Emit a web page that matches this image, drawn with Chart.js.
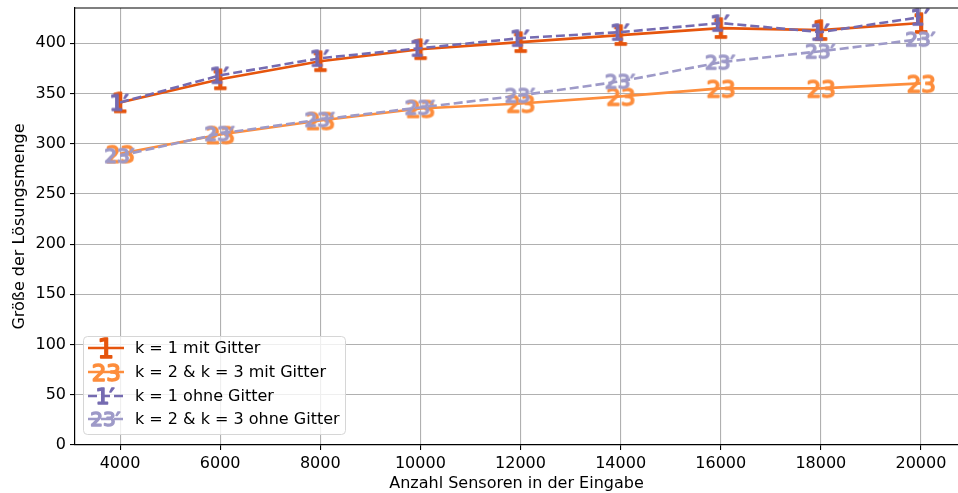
<!DOCTYPE html>
<html>
<head>
<meta charset="utf-8">
<script src="https://cdn.jsdelivr.net/npm/chart.js@4.4.1/dist/chart.umd.min.js"></script>
<style>
  html, body { margin: 0; padding: 0; background: #fff; }
  #wrap { width: 958px; height: 493px; }
</style>
</head>
<body>
<div id="wrap"><canvas id="grafico" width="958" height="493"></canvas></div>
<script>
// Daten
const sensoren = [4000, 6000, 8000, 10000, 12000, 14000, 16000, 18000, 20000];
const k1MitGitter = [341, 364, 382, 394, 401, 408, 415, 413, 420];
const k23MitGitter = [290, 309, 323, 335, 340, 347, 355, 355, 360];
const k1OhneGitter = [341, 368, 385, 395, 405, 411, 420, 411, 426];
const k23OhneGitter = [288, 310, 324, 336, 348, 362, 381, 392, 404];
const yTicks = [0, 50, 100, 150, 200, 250, 300, 350, 400];
const xTicks = [4000, 6000, 8000, 10000, 12000, 14000, 16000, 18000, 20000];

const FONT = "'DejaVu Sans', sans-serif";
const FS = 16;

// Marker als Text-Glyphen (wie mathtext-Marker)
function makeMarker(text, color, size) {
    const c = document.createElement('canvas');
    c.width = 40; c.height = 32;
    const g = c.getContext('2d');
    g.font = size + 'px ' + FONT;
    const m = g.measureText(text);
    const w = m.actualBoundingBoxLeft + m.actualBoundingBoxRight;
    const h = m.actualBoundingBoxAscent + m.actualBoundingBoxDescent;
    const x = c.width / 2 - w / 2 + m.actualBoundingBoxLeft;
    const y = c.height / 2 - h / 2 + m.actualBoundingBoxAscent;
    g.fillStyle = color;
    g.strokeStyle = color;
    g.lineWidth = 1.6;
    g.lineJoin = 'round';
    g.fillText(text, x, y);
    g.strokeText(text, x, y);
    return c;
}

const serien = [
    { label: 'k = 1 mit Gitter', data: k1MitGitter, color: '#e6550d', marker: '1', size: 26, dash: [] },
    { label: 'k = 2 & k = 3 mit Gitter', data: k23MitGitter, color: '#fd8d3c', marker: '23', size: 23, dash: [] },
    { label: 'k = 1 ohne Gitter', data: k1OhneGitter, color: '#756bb1', marker: '1\u2032', size: 22, dash: [9, 4] },
    { label: 'k = 2 & k = 3 ohne Gitter', data: k23OhneGitter, color: '#9e9ac8', marker: '23\u2032', size: 20, dash: [9, 4] }
];
serien.forEach(s => { s.img = makeMarker(s.marker, s.color, s.size); });

// Legende und obere Achsenlinie
const extras = {
    id: 'extras',
    afterDraw(chart) {
        const ctx = chart.ctx;
        const a = chart.chartArea;
        ctx.save();
        ctx.strokeStyle = '#000';
        ctx.lineWidth = 1.2;
        ctx.beginPath();
        ctx.moveTo(a.left, a.top);
        ctx.lineTo(chart.width, a.top);
        ctx.stroke();

        // Legendenbox
        const bx = 83.5, by = 336.5, bw = 262, bh = 98, r = 4;
        ctx.beginPath();
        ctx.moveTo(bx + r, by);
        ctx.arcTo(bx + bw, by, bx + bw, by + bh, r);
        ctx.arcTo(bx + bw, by + bh, bx, by + bh, r);
        ctx.arcTo(bx, by + bh, bx, by, r);
        ctx.arcTo(bx, by, bx + bw, by, r);
        ctx.closePath();
        ctx.fillStyle = 'rgba(255,255,255,0.8)';
        ctx.fill();
        ctx.strokeStyle = '#d6d6d6';
        ctx.lineWidth = 1;
        ctx.stroke();

        const rows = [348, 372, 396, 419];
        ctx.font = FS + 'px ' + FONT;
        ctx.textBaseline = 'middle';
        serien.forEach((s, i) => {
            const y = rows[i];
            ctx.strokeStyle = s.color;
            ctx.lineWidth = 2.6;
            ctx.setLineDash(s.dash);
            ctx.beginPath();
            ctx.moveTo(88, y);
            ctx.lineTo(124, y);
            ctx.stroke();
            ctx.setLineDash([]);
            ctx.drawImage(s.img, 106 - s.img.width / 2, y - s.img.height / 2);
            ctx.fillStyle = '#000';
            ctx.fillText(s.label, 135, y + 1);
        });
        ctx.restore();
    }
};

const datasets = serien.map((s, i) => ({
    label: s.label,
    data: sensoren.map((x, j) => ({ x: x, y: s.data[j] })),
    borderColor: s.color,
    backgroundColor: s.color,
    borderWidth: 2.6,
    borderDash: s.dash,
    pointStyle: s.img,
    pointRadius: 10,
    pointHoverRadius: 10,
    tension: 0,
    clip: false,
    order: serien.length - i
}));

new Chart(document.getElementById('grafico').getContext('2d'), {
    type: 'line',
    data: { datasets: datasets },
    plugins: [extras],
    options: {
        responsive: false,
        animation: false,
        layout: { autoPadding: false, padding: { top: 8, right: 0, left: 0, bottom: 0 } },
        plugins: {
            legend: { display: false },
            tooltip: { enabled: false }
        },
        scales: {
            x: {
                type: 'linear',
                min: 3100,
                max: 20740,
                afterBuildTicks: axis => { axis.ticks = xTicks.map(v => ({ value: v })); },
                afterFit: axis => { axis.height = 48; },
                ticks: {
                    color: '#000',
                    font: { family: FONT, size: FS },
                    padding: 4,
                    maxRotation: 0,
                    callback: v => String(v)
                },
                grid: { color: '#b0b0b0', lineWidth: 1.1, tickColor: '#000', tickLength: 5 },
                border: { color: '#000', width: 1.2 },
                title: {
                    display: true,
                    text: 'Anzahl Sensoren in der Eingabe',
                    color: '#000',
                    font: { family: FONT, size: FS },
                    padding: { top: 0, bottom: 0 }
                }
            },
            y: {
                min: 0,
                max: 435,
                afterBuildTicks: axis => { axis.ticks = yTicks.map(v => ({ value: v })); },
                afterFit: axis => { axis.width = 75; },
                ticks: {
                    color: '#000',
                    font: { family: FONT, size: FS, lineHeight: 0.4 },
                    padding: 4
                },
                grid: { color: '#b0b0b0', lineWidth: 1.1, tickColor: '#000', tickLength: 5 },
                border: { color: '#000', width: 1.2 },
                title: {
                    display: true,
                    text: 'Größe der Lösungsmenge',
                    color: '#000',
                    font: { family: FONT, size: FS },
                    padding: { top: 10, bottom: 0 }
                }
            }
        }
    }
});
</script>
</body>
</html>
